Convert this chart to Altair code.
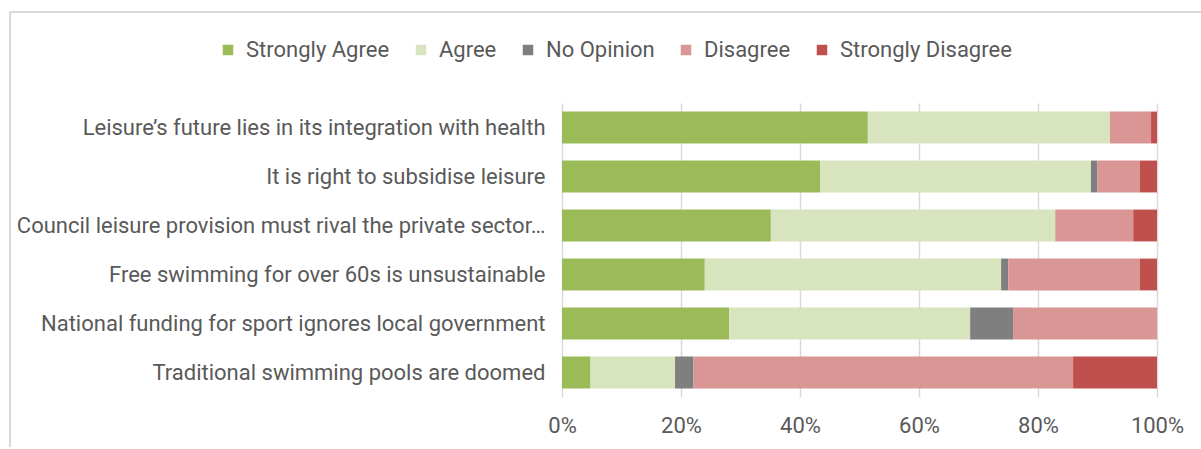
import altair as alt
import pandas as pd

statements = [
    "Leisure\u2019s future lies in its integration with health",
    "It is right to subsidise leisure",
    "Council leisure provision must rival the private sector\u2026",
    "Free swimming for over 60s is unsustainable",
    "National funding for sport ignores local government",
    "Traditional swimming pools are doomed",
]
responses = ["Strongly Agree", "Agree", "No Opinion", "Disagree", "Strongly Disagree"]
colors = ["#9BBB59", "#D7E4BD", "#7F7F7F", "#D99694", "#C0504D"]

strongly_agree = [51.4, 43.4, 35.1, 24.0, 28.1, 4.8]
agree = [40.7, 45.5, 47.8, 49.8, 40.5, 14.2]
no_opinion = [0.0, 1.1, 0.0, 1.2, 7.2, 3.1]
disagree = [6.9, 7.1, 13.1, 22.1, 24.2, 63.8]
strongly_disagree = [1.0, 2.9, 4.0, 2.9, 0.0, 14.1]

series = [strongly_agree, agree, no_opinion, disagree, strongly_disagree]
rows = []
for ri, (resp, vals) in enumerate(zip(responses, series)):
    for s, v in zip(statements, vals):
        rows.append({"statement": s, "response": resp, "value": v, "order": ri})
df = pd.DataFrame(rows)

FONT = "Roboto"
FS = 22

bars = alt.Chart(df).mark_bar().encode(
    y=alt.Y("statement:N", sort=statements, title=None,
            scale=alt.Scale(paddingInner=0.35, paddingOuter=0.175),
            axis=alt.Axis(ticks=False, domain=False, labelPadding=17,
                          labelFontSize=FS, labelColor="#595959", labelFont=FONT,
                          labelLimit=560)),
    x=alt.X("value:Q", stack="normalize", title=None,
            scale=alt.Scale(domain=[0, 1]),
            axis=alt.Axis(format="%", values=[0, 0.2, 0.4, 0.6, 0.8, 1.0],
                          ticks=False, domain=False, grid=True,
                          gridColor="#D9D9D9", gridWidth=1.5,
                          labelPadding=18, labelFontSize=FS,
                          labelColor="#595959", labelFont=FONT,
                          labelFlush=False)),
    color=alt.Color("response:N", sort=responses,
                    scale=alt.Scale(domain=responses, range=colors),
                    legend=alt.Legend(title=None, orient="none", direction="horizontal",
                                      legendX=-345, legendY=-64,
                                      symbolType="square", symbolSize=110,
                                      symbolStrokeWidth=0,
                                      labelFontSize=FS, labelColor="#595959",
                                      labelFont=FONT, columnPadding=20,
                                      labelOffset=7, labelLimit=400)),
    order=alt.Order("order:Q"),
)

border_top = alt.Chart(df).mark_rule(color="#D9D9D9", strokeWidth=2).encode(
    x=alt.value(-552), x2=alt.value(700), y=alt.value(-91)
)
border_left = alt.Chart(df).mark_rule(color="#D9D9D9", strokeWidth=2).encode(
    x=alt.value(-552), y=alt.value(-91), y2=alt.value(400)
)

chart = alt.layer(bars, border_top, border_left).properties(
    width=595, height=294,
    autosize=alt.AutoSizeParams(type="none"),
    padding={"left": 562, "top": 103, "right": 44, "bottom": 50},
).configure_view(stroke=None)

chart.save("out.html", embed_options={"renderer": "svg", "actions": False})
